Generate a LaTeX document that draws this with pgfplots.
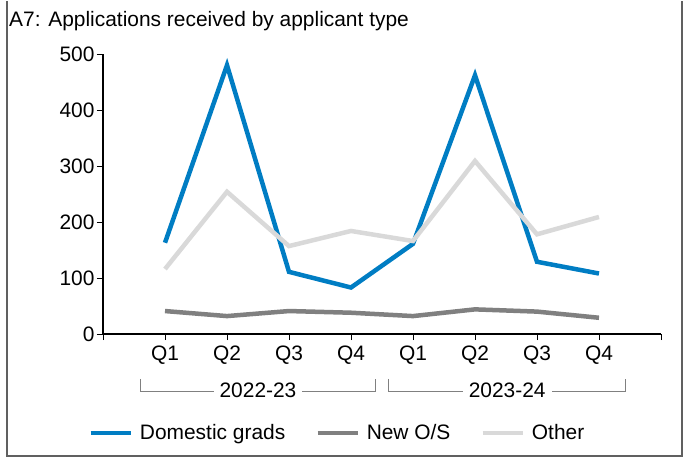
\documentclass[border=0pt]{standalone}
\usepackage{fontspec}
\setmainfont{Liberation Sans}
\usepackage{pgfplots}
\pgfplotsset{compat=1.18}

\definecolor{domblue}{RGB}{0,125,195}
\definecolor{newos}{RGB}{128,128,128}
\definecolor{othergray}{RGB}{217,217,217}
\definecolor{framegray}{RGB}{96,96,96}

\begin{document}
\begin{tikzpicture}
% outer frame of the chart
\draw[framegray, line width=2bp] (7bp,0bp) -- (7bp,-455bp) -- (682bp,-455bp) -- (682bp,0bp);
\path (0bp,0bp) rectangle (688bp,-457bp);
\node[anchor=base west, inner sep=0pt, font=\fontsize{21}{25}\selectfont] at (9bp,-25bp)
  {A7: Applications received by applicant type};

\begin{axis}[
    at={(103bp,-333bp)}, anchor=south west,
    scale only axis, width=558bp, height=280bp,
    xmin=0, xmax=9, ymin=0, ymax=500,
    xtick={0,...,9},
    xticklabels={,Q1,Q2,Q3,Q4,Q1,Q2,Q3,Q4,},
    ytick={0,100,...,500},
    axis x line=bottom, axis y line=left,
    axis line style={-, line width=2bp, black},
    tick align=outside,
    major tick length=6bp,
    tick style={black, line width=0.8bp},
    tick label style={font=\fontsize{21}{24}\selectfont},
    /pgf/number format/assume math mode=true,
    yticklabel style={xshift=1bp},
    xticklabel style={yshift=-2bp},
    clip=false,
    legend columns=3,
    legend style={at={(0.42,-0.354)}, anchor=center, draw=none, fill=none,
      font=\fontsize{21}{24}\selectfont,
      /tikz/every odd column/.append style={column sep=5bp},
      /tikz/every even column/.append style={column sep=28bp}},
    legend image code/.code={\draw[#1] (0bp,0bp) -- (40bp,0bp);},
]
\addplot[domblue, line width=4.5bp] coordinates {
  (1,163) (2,480) (3,111) (4,83) (5,161) (6,462) (7,129) (8,108)};
\addlegendentry{Domestic grads}
\addplot[newos, line width=4.5bp] coordinates {
  (1,41) (2,32) (3,41) (4,38) (5,32) (6,44) (7,40) (8,29)};
\addlegendentry{New O/S}
\addplot[othergray, line width=4.5bp] coordinates {
  (1,116) (2,254) (3,157) (4,184) (5,166) (6,309) (7,178) (8,209)};
\addlegendentry{Other}

% year group brackets
\draw[newos, line width=0.8bp] (axis cs:0.61,-80) -- (axis cs:0.61,-103) -- (axis cs:4.4,-103) -- (axis cs:4.4,-80);
\draw[newos, line width=0.8bp] (axis cs:4.61,-80) -- (axis cs:4.61,-103) -- (axis cs:8.43,-103) -- (axis cs:8.43,-80);
\node[fill=white, inner xsep=6bp, inner ysep=2bp, font=\fontsize{21}{24}\selectfont] at (axis cs:2.5,-100) {2022-23};
\node[fill=white, inner xsep=6bp, inner ysep=2bp, font=\fontsize{21}{24}\selectfont] at (axis cs:6.52,-100) {2023-24};
\end{axis}
\end{tikzpicture}
\end{document}
